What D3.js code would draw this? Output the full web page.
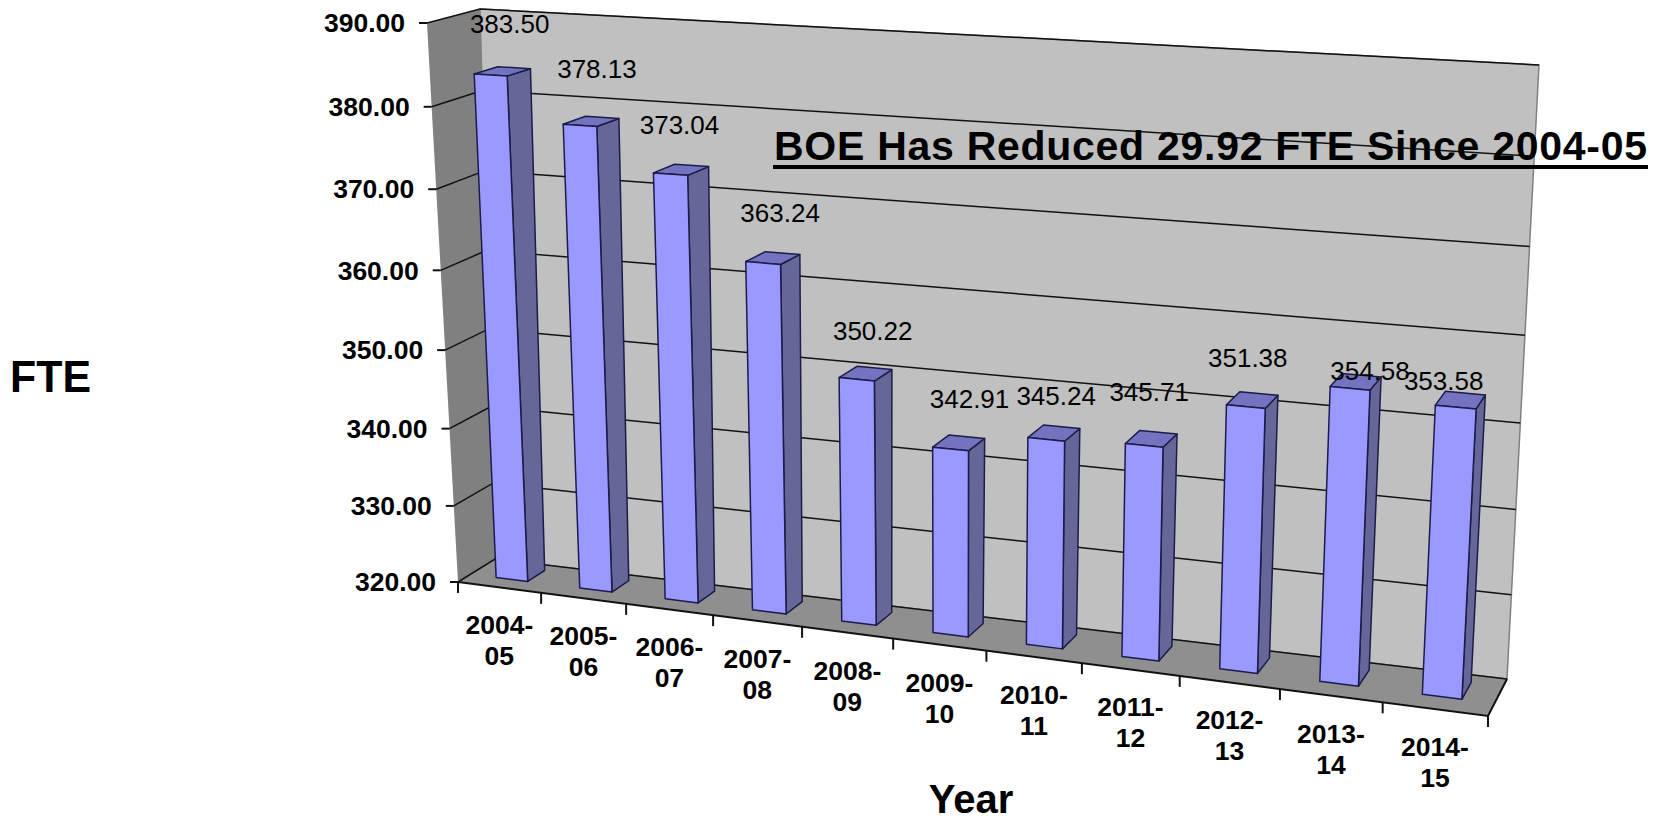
<!DOCTYPE html>
<html>
<head>
<meta charset="utf-8">
<script src="https://cdn.jsdelivr.net/npm/d3@7"></script>
<style>
  body { margin: 0; background: #fff; }
  text { font-family: "Liberation Sans", Arial, sans-serif; fill: #000; }
</style>
</head>
<body>
<div id="chart"></div>
<script>
// data
var years = ["2004-05", "2005-06", "2006-07", "2007-08", "2008-09", "2009-10",
             "2010-11", "2011-12", "2012-13", "2013-14", "2014-15"];
var fte = [383.50, 378.13, 373.04, 363.24, 350.22, 342.91, 345.24, 345.71, 351.38, 354.58, 353.58];
var valueTicks = [320, 330, 340, 350, 360, 370, 380, 390];

// data labels were moved by hand in the original, offsets from the bar top (px)
var labelNudge = [[19, -51], [17, -56], [9, -49], [17, -50], [16, -48], [19, -50],
                  [10, -44], [5, -53], [2, -49], [20, -18], [-12, -26]];

var width = 1658, height = 822;

// plot box corners on screen: bottom-left, bottom-right, top-right, top-left
var frontQuad = [[458, 582], [1488, 716], [1521, 83], [427, 23]];
var backQuad = [[495, 559], [1507, 679], [1539, 65], [480, 9]];

// unit square to quad (perspective)
function quadMap(q) {
    var x0 = q[0][0], y0 = q[0][1], x1 = q[1][0], y1 = q[1][1],
        x2 = q[2][0], y2 = q[2][1], x3 = q[3][0], y3 = q[3][1];
    var dx1 = x1 - x2, dx2 = x3 - x2, sx = x0 - x1 + x2 - x3,
        dy1 = y1 - y2, dy2 = y3 - y2, sy = y0 - y1 + y2 - y3;
    var den = dx1 * dy2 - dx2 * dy1;
    var g = (sx * dy2 - dx2 * sy) / den,
        h = (dx1 * sy - sx * dy1) / den;
    var a = x1 - x0 + g * x1, b = x3 - x0 + h * x3,
        d = y1 - y0 + g * y1, e = y3 - y0 + h * y3;
    return function (u, v) {
        var w = g * u + h * v + 1;
        return [(a * u + b * v + x0) / w, (d * u + e * v + y0) / w];
    };
}
var frontMap = quadMap(frontQuad), backMap = quadMap(backQuad);

// u across, v up, z into the page
function project(u, v, z) {
    var f = frontMap(u, v), b = backMap(u, v);
    return [f[0] + (b[0] - f[0]) * z, f[1] + (b[1] - f[1]) * z];
}

var x = d3.scaleBand().domain(years).range([0, 1]).paddingInner(0.62).paddingOuter(0.31);
var y = d3.scaleLinear().domain([320, 390]).range([0, 1]);
var zFront = 0.34, zBack = 0.8;
var step = x.step();

var svg = d3.select("#chart").append("svg")
    .attr("width", width)
    .attr("height", height);

var line = d3.line();
function quad(pts) { return line(pts) + "Z"; }

// walls and floor
svg.append("path")
    .attr("d", quad([project(0, 0, 0), project(0, 0, 1), project(0, 1, 1), project(0, 1, 0)]))
    .attr("fill", "#808080");
svg.append("path")
    .attr("d", quad([project(0, 0, 1), project(1, 0, 1), project(1, 1, 1), project(0, 1, 1)]))
    .attr("fill", "#c0c0c0")
    .attr("stroke", "#808080")
    .attr("stroke-width", 1.5);
svg.append("path")
    .attr("d", quad([project(0, 0, 0), project(1, 0, 0), project(1, 0, 1), project(0, 0, 1)]))
    .attr("fill", "#8f8f8f");

// gridlines on left wall and back wall
svg.selectAll(".grid")
    .data(valueTicks)
    .enter().append("path")
    .attr("class", "grid")
    .attr("fill", "none")
    .attr("stroke", "#111")
    .attr("stroke-width", 1.5)
    .attr("d", function (d) {
        return line([project(0, y(d), 0), project(0, y(d), 1), project(1, y(d), 1)]);
    });

// front and right edge of the floor
svg.append("path")
    .attr("fill", "none")
    .attr("stroke", "#111")
    .attr("stroke-width", 2)
    .attr("d", line([project(0, 0, 0), project(1, 0, 0), project(1, 0, 1)]));

// value axis ticks + labels
svg.selectAll(".ytick")
    .data(valueTicks)
    .enter().append("path")
    .attr("class", "ytick")
    .attr("stroke", "#111")
    .attr("stroke-width", 2)
    .attr("d", function (d) {
        var p = project(0, y(d), 0);
        return line([[p[0] - 8, p[1]], p]);
    });
svg.selectAll(".ylabel")
    .data(valueTicks)
    .enter().append("text")
    .attr("class", "ylabel")
    .attr("text-anchor", "end")
    .attr("font-size", 26.5)
    .attr("font-weight", "bold")
    .attr("dy", "0.35em")
    .attr("x", function (d) { return project(0, y(d), 0)[0] - 22; })
    .attr("y", function (d) { return project(0, y(d), 0)[1]; })
    .text(function (d) { return d.toFixed(2); });

// category axis ticks
svg.selectAll(".xtick")
    .data(d3.range(years.length + 1))
    .enter().append("path")
    .attr("class", "xtick")
    .attr("stroke", "#111")
    .attr("stroke-width", 2)
    .attr("d", function (i) {
        var p = project(i * step, 0, 0);
        return line([p, [p[0], p[1] + 11]]);
    });

var xlabels = svg.selectAll(".xlabel")
    .data(years)
    .enter().append("text")
    .attr("class", "xlabel")
    .attr("text-anchor", "middle")
    .attr("font-size", 26.5)
    .attr("font-weight", "bold");
xlabels.append("tspan")
    .attr("x", function (d) { return project(x(d) + x.bandwidth() / 2, 0, 0)[0]; })
    .attr("y", function (d) { return project(x(d) + x.bandwidth() / 2, 0, 0)[1] + 47; })
    .text(function (d) { return d.split("-")[0] + "-"; });
xlabels.append("tspan")
    .attr("x", function (d) { return project(x(d) + x.bandwidth() / 2, 0, 0)[0]; })
    .attr("y", function (d) { return project(x(d) + x.bandwidth() / 2, 0, 0)[1] + 78; })
    .text(function (d) { return d.split("-")[1]; });

// bars
var bars = svg.selectAll(".bar")
    .data(years)
    .enter().append("g")
    .attr("class", "bar")
    .attr("stroke", "#1c1c4a")
    .attr("stroke-width", 1.5)
    .attr("stroke-linejoin", "round");

bars.append("path")
    .attr("fill", "#666699")
    .attr("d", function (d, i) {
        var u = x(d) + x.bandwidth(), v = y(fte[i]);
        return quad([project(u, 0, zFront), project(u, 0, zBack), project(u, v, zBack), project(u, v, zFront)]);
    });
bars.append("path")
    .attr("fill", "#7373bf")
    .attr("d", function (d, i) {
        var u0 = x(d), u1 = u0 + x.bandwidth(), v = y(fte[i]);
        return quad([project(u0, v, zFront), project(u1, v, zFront), project(u1, v, zBack), project(u0, v, zBack)]);
    });
bars.append("path")
    .attr("fill", "#9999ff")
    .attr("d", function (d, i) {
        var u0 = x(d), u1 = u0 + x.bandwidth(), v = y(fte[i]);
        return quad([project(u0, 0, zFront), project(u1, 0, zFront), project(u1, v, zFront), project(u0, v, zFront)]);
    });

// data labels
svg.selectAll(".value")
    .data(years)
    .enter().append("text")
    .attr("class", "value")
    .attr("text-anchor", "middle")
    .attr("font-size", 26)
    .attr("dy", "0.35em")
    .attr("x", function (d, i) {
        return project(x(d) + x.bandwidth() / 2, y(fte[i]), zFront)[0] + labelNudge[i][0];
    })
    .attr("y", function (d, i) {
        return project(x(d) + x.bandwidth() / 2, y(fte[i]), zFront)[1] + labelNudge[i][1];
    })
    .text(function (d, i) { return fte[i].toFixed(2); });

// axis titles
svg.append("text")
    .attr("x", 10).attr("y", 392)
    .attr("font-size", 44).attr("font-weight", "bold")
    .attr("textLength", 81)
    .attr("lengthAdjust", "spacingAndGlyphs")
    .text("FTE");
svg.append("text")
    .attr("x", 971).attr("y", 813)
    .attr("text-anchor", "middle")
    .attr("font-size", 40).attr("font-weight", "bold")
    .text("Year");

// headline over the chart
svg.append("text")
    .attr("x", 774).attr("y", 160)
    .attr("font-size", 41).attr("font-weight", "bold")
    .attr("textLength", 873)
    .attr("lengthAdjust", "spacing")
    .text("BOE Has Reduced 29.92 FTE Since 2004-05");
svg.append("line")
    .attr("x1", 773).attr("x2", 1648)
    .attr("y1", 167).attr("y2", 167)
    .attr("stroke", "#000")
    .attr("stroke-width", 4);
</script>
</body>
</html>
